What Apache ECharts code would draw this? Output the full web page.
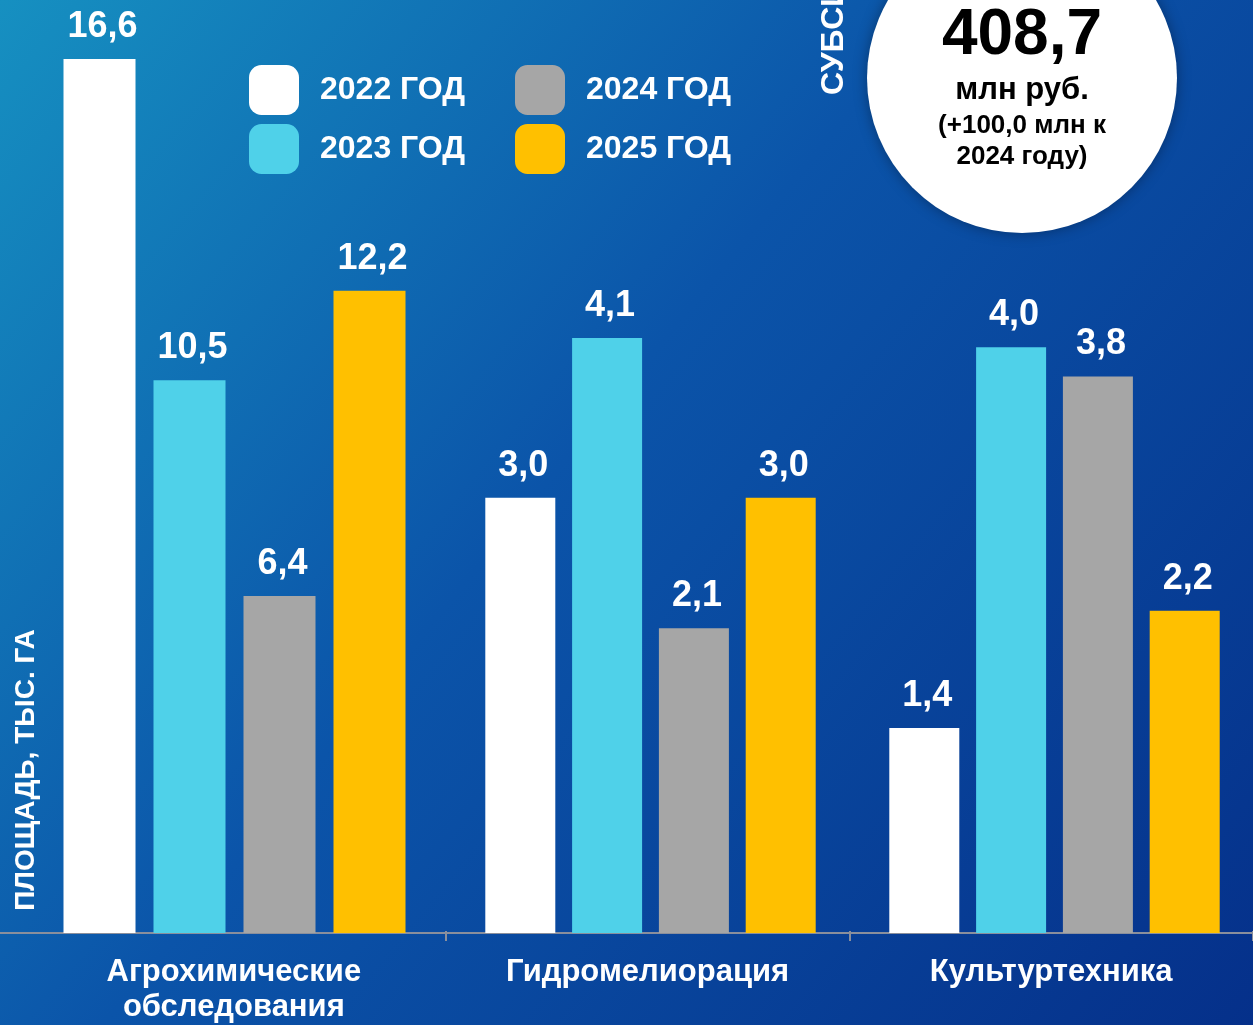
<!DOCTYPE html>
<html>
<head>
<meta charset="utf-8">
<script src="https://cdn.jsdelivr.net/npm/echarts@6/dist/echarts.min.js"></script>
<style>
  html, body { margin: 0; padding: 0; }
  #chart { width: 1253px; height: 1025px; }
</style>
</head>
<body>
<div id="chart"></div>
<script>
const categories = ['Агрохимические\nобследования', 'Гидромелиорация', 'Культуртехника']
const years = ['2022 ГОД', '2023 ГОД', '2024 ГОД', '2025 ГОД']
const values2022 = [16.6, 3.0, 1.4]
const values2023 = [10.5, 4.1, 4.0]
const values2024 = [6.4, 2.1, 3.8]
const values2025 = [12.2, 3.0, 2.2]
const subsidyValue = '408,7'
const subsidyUnit = 'млн руб.'
const subsidyNote = ['(+100,0 млн к', '2024 году)']

const seriesValues = [values2022, values2023, values2024, values2025]
const colors = ['#ffffff', '#4fd1e9', '#a6a6a6', '#ffc000']
// each group is drawn on its own scale, as in the original picture
const groupMax = [17.72, 6.43, 6.37]
const groupGrids = [
    { left: 42, width: 385, top: 0, bottom: 92 },
    { left: 448, width: 405, top: 0, bottom: 92 },
    { left: 856, width: 405, top: 0, bottom: 92 }
]
const font = 'Liberation Sans, Arial, sans-serif'

let myChart = echarts.init(document.getElementById('chart'))

const grids = groupGrids.concat([
    { left: 42, right: -4, top: 0, bottom: 92 }, // category labels
    { left: 0, right: 0, top: 0, bottom: 92 } // full width base line
])

const xAxes = groupGrids.map((g, i) => ({
    type: 'category',
    gridIndex: i,
    data: [categories[i]],
    show: false
}))
xAxes.push({
    type: 'category',
    gridIndex: 3,
    data: categories,
    axisLine: { show: false },
    axisTick: {
        show: true,
        length: 10,
        interval: (index) => index > 0,
        lineStyle: { color: '#8a8f9c', width: 2 }
    },
    axisLabel: {
        color: '#fff',
        fontSize: 31,
        fontWeight: 'bold',
        fontFamily: font,
        lineHeight: 35,
        margin: 24,
        // first label sits a little left of its band centre
        formatter: (value, index) => index === 0
            ? value.split('\n').map(t => '{a|' + t + '}').join('\n')
            : value,
        rich: {
            a: {
                color: '#fff',
                fontSize: 31,
                fontWeight: 'bold',
                fontFamily: font,
                lineHeight: 35,
                padding: [0, 20, 0, 0]
            }
        }
    }
})
xAxes.push({
    type: 'value',
    gridIndex: 4,
    min: 0,
    max: 1,
    axisLine: { show: true, lineStyle: { color: '#8a8f9c', width: 2 } },
    axisTick: { show: false },
    axisLabel: { show: false },
    splitLine: { show: false }
})

const yAxes = groupGrids.map((g, i) => ({
    type: 'value',
    gridIndex: i,
    min: 0,
    max: groupMax[i],
    show: false
}))
yAxes.push({ type: 'value', gridIndex: 3, show: false })
yAxes.push({ type: 'value', gridIndex: 4, show: false })

const series = []
years.forEach((year, s) => {
    categories.forEach((cat, g) => {
        series.push({
            name: year,
            type: 'bar',
            xAxisIndex: g,
            yAxisIndex: g,
            barWidth: g === 0 ? 72 : 70,
            barGap: g === 0 ? '25%' : '24%',
            itemStyle: { color: colors[s] },
            label: {
                show: true,
                position: 'top',
                distance: 14,
                color: '#fff',
                fontSize: 36,
                fontWeight: 'bold',
                fontFamily: font,
                offset: [3, 0],
                formatter: (p) => p.value.toFixed(1).replace('.', ',')
            },
            data: [seriesValues[s][g]]
        })
    })
})

const legendBase = {
    orient: 'vertical',
    top: 65,
    padding: 0,
    itemWidth: 50,
    itemHeight: 50,
    itemGap: 9,
    icon: 'roundRect',
    selectedMode: false,
    textStyle: {
        color: '#fff',
        fontSize: 32,
        fontWeight: 'bold',
        fontFamily: font,
        padding: [6, 0, 0, 16]
    }
}

myChart.setOption({
    backgroundColor: new echarts.graphic.LinearGradient(0, 0, 1, 1, [
        { offset: 0, color: '#1690c1' },
        { offset: 0.45, color: '#0b54a9' },
        { offset: 1, color: '#05308a' }
    ]),
    animation: false,
    legend: [
        Object.assign({}, legendBase, { left: 249, data: years.slice(0, 2) }),
        Object.assign({}, legendBase, { left: 515, data: years.slice(2, 4) })
    ],
    grid: grids,
    xAxis: xAxes,
    yAxis: yAxes,
    series: series,
    graphic: [
        {
            type: 'text',
            x: 26,
            y: 770,
            rotation: Math.PI / 2,
            style: {
                text: 'ПЛОЩАДЬ, ТЫС. ГА',
                fill: '#fff',
                font: 'bold 28px ' + font,
                textAlign: 'center',
                textVerticalAlign: 'middle'
            }
        },
        {
            type: 'text',
            x: 834,
            y: 95,
            rotation: Math.PI / 2,
            style: {
                text: 'СУБСИДИЯ',
                fill: '#fff',
                font: 'bold 32px ' + font,
                textAlign: 'left',
                textVerticalAlign: 'middle'
            }
        },
        {
            type: 'circle',
            shape: { cx: 1022, cy: 78, r: 155 },
            style: {
                fill: '#fff',
                shadowBlur: 14,
                shadowColor: 'rgba(0,0,0,0.35)'
            },
            z: 10
        },
        {
            type: 'text',
            x: 1022,
            y: 36,
            z: 11,
            style: {
                text: subsidyValue,
                fill: '#000',
                font: 'bold 64px ' + font,
                textAlign: 'center',
                textVerticalAlign: 'middle'
            }
        },
        {
            type: 'text',
            x: 1022,
            y: 90,
            z: 11,
            style: {
                text: subsidyUnit,
                fill: '#000',
                font: 'bold 31px ' + font,
                textAlign: 'center',
                textVerticalAlign: 'middle'
            }
        },
        {
            type: 'text',
            x: 1022,
            y: 126,
            z: 11,
            style: {
                text: subsidyNote[0],
                fill: '#000',
                font: 'bold 26px ' + font,
                textAlign: 'center',
                textVerticalAlign: 'middle'
            }
        },
        {
            type: 'text',
            x: 1022,
            y: 157,
            z: 11,
            style: {
                text: subsidyNote[1],
                fill: '#000',
                font: 'bold 26px ' + font,
                textAlign: 'center',
                textVerticalAlign: 'middle'
            }
        }
    ]
})
window.addEventListener('resize', function () {
    myChart.resize()
})
</script>
</body>
</html>
